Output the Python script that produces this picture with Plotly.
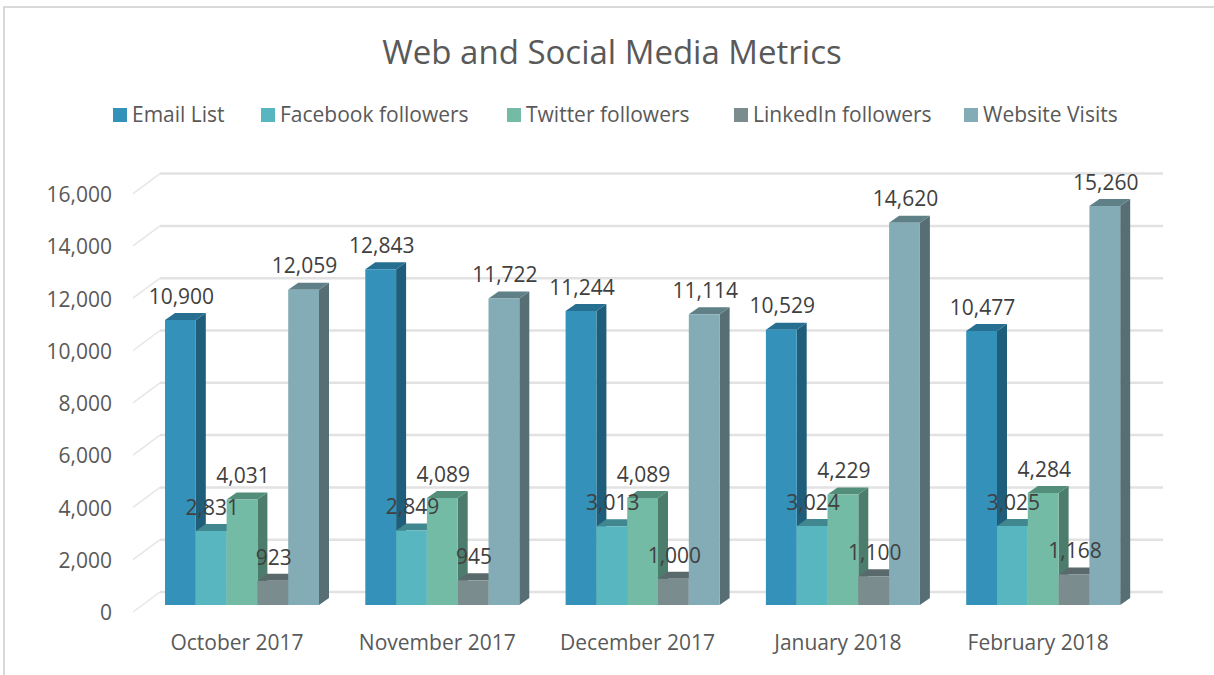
import plotly.graph_objects as go

# ---- chart data ----
months = ["October 2017", "November 2017", "December 2017", "January 2018", "February 2018"]
series_names = ["Email List", "Facebook followers", "Twitter followers", "LinkedIn followers", "Website Visits"]
email_list = [10900, 12843, 11244, 10529, 10477]
facebook = [2831, 2849, 3013, 3024, 3025]
twitter = [4031, 4089, 4089, 4229, 4284]
linkedin = [923, 945, 1000, 1100, 1168]
website = [12059, 11722, 11114, 14620, 15260]
value_ticks = [0, 2000, 4000, 6000, 8000, 10000, 12000, 14000, 16000]

series_values = [email_list, facebook, twitter, linkedin, website]
front_colors = ["#3391BA", "#58B6C0", "#74BBA6", "#7B8C8E", "#84ACB6"]
side_colors = ["#1F5E7A", "#3B7C84", "#4C7D6C", "#505E60", "#576E74"]
top_colors = ["#266F90", "#41878F", "#538E7B", "#5A6A6C", "#5F8087"]

# ---- page geometry, in pixels ----
W, H = 1214, 675
PLOT_L, PLOT_R, PLOT_T, PLOT_B = 120, 1170, 150, 630
GROUP0_PX, GROUP_STEP_PX = 242.0, 200.3
BASE_PX, PX_PER_UNIT = 605.0, 0.02615
BAR_PX = 30.8
DEPTH_X_PX, DEPTH_Y_PX = 10.0, 7.0
FONT = "Open Sans"


def x_span(px):
    return px / GROUP_STEP_PX


def y_span(px):
    return px / PX_PER_UNIT


def x_at(px):
    return (px - GROUP0_PX) / GROUP_STEP_PX


def paper_x(px):
    return (px - PLOT_L) / (PLOT_R - PLOT_L)


def paper_y(px):
    return (PLOT_B - px) / (PLOT_B - PLOT_T)


bar_w = x_span(BAR_PX)
group_w = bar_w * len(series_names)
dx, dy = x_span(DEPTH_X_PX), y_span(DEPTH_Y_PX)

fig = go.Figure()
shapes = []


def poly(points, color):
    path = "M " + " L ".join(f"{x:.5f},{y:.2f}" for x, y in points) + " Z"
    return dict(type="path", path=path, xref="x", yref="y", layer="below",
                fillcolor=color, line=dict(width=0))


# back wall grid lines, with the short diagonal running out to the axis plane
for t in value_ticks:
    back = t + y_span(13)
    front = t - y_span(7)
    shapes.append(dict(type="line", xref="x", yref="y", layer="below",
                       x0=x_at(160), x1=x_at(1163), y0=back, y1=back,
                       line=dict(color="#E2E2E2", width=2.5)))
    shapes.append(dict(type="line", xref="x", yref="y", layer="below",
                       x0=x_at(133), x1=x_at(160), y0=front, y1=back,
                       line=dict(color="#E6E6E6", width=1.5)))

# depth faces: every side first, then every top, so tops cover the neighbour's side
sides, tops = [], []
for k, values in enumerate(series_values):
    for i, v in enumerate(values):
        left = i - group_w / 2 + k * bar_w
        right = left + bar_w
        sides.append(poly([(right, 0), (right + dx, dy), (right + dx, v + dy), (right, v)], side_colors[k]))
        tops.append(poly([(left, v), (right, v), (right + dx, v + dy), (left + dx, v + dy)], top_colors[k]))
shapes += sides + tops

# front faces
for k, values in enumerate(series_values):
    fig.add_trace(go.Bar(x=list(range(len(months))), y=values, name=series_names[k],
                         marker=dict(color=front_colors[k], line=dict(width=0)),
                         showlegend=False))

# value labels above each column
label_lift = y_span(21.5)
for k, values in enumerate(series_values):
    fig.add_trace(go.Scatter(
        x=[i - group_w / 2 + (k + 0.5) * bar_w + x_span(1) for i in range(len(months))],
        y=[v + label_lift for v in values],
        mode="text", text=[f"{v:,}" for v in values], textposition="middle center",
        textfont=dict(family=FONT, size=21, color="#404040"),
        showlegend=False, hoverinfo="skip", cliponaxis=False))

# chart frame
shapes.append(dict(type="path", xref="paper", yref="paper", layer="above",
                   path=f"M {paper_x(4)},{paper_y(H + 5)} L {paper_x(4)},{paper_y(7)} L {paper_x(W + 5)},{paper_y(7)}",
                   line=dict(color="#D9D9D9", width=2)))

# legend row
legend_swatch_px = [113, 261, 507, 734, 964]
annotations = []
for k, name in enumerate(series_names):
    s = legend_swatch_px[k]
    shapes.append(dict(type="rect", xref="paper", yref="paper", layer="above",
                       x0=paper_x(s), x1=paper_x(s + 14), y0=paper_y(108), y1=paper_y(122),
                       fillcolor=front_colors[k], line=dict(width=0)))
    annotations.append(dict(xref="paper", yref="paper", x=paper_x(s + 17), y=paper_y(113.5),
                            xanchor="left", yanchor="middle", showarrow=False, text=name,
                            font=dict(family=FONT, size=21, color="#595959")))

fig.update_layout(
    width=W, height=H, autosize=False,
    margin=dict(l=PLOT_L, r=W - PLOT_R, t=PLOT_T, b=H - PLOT_B, pad=0),
    paper_bgcolor="white", plot_bgcolor="white",
    barmode="group", bargap=1 - group_w, bargroupgap=0,
    title=dict(text="Web and Social Media Metrics", x=612 / W, y=1 - 52 / H,
               xanchor="center", yanchor="middle",
               font=dict(family=FONT, size=33, color="#595959")),
    xaxis=dict(range=[x_at(PLOT_L), x_at(PLOT_R)], tickmode="array",
               tickvals=list(range(len(months))), ticktext=months,
               showgrid=False, zeroline=False, showline=False, ticks="",
               ticklabelshift=-5, ticklabelstandoff=-2,
               tickfont=dict(family=FONT, size=21, color="#595959")),
    yaxis=dict(range=[(BASE_PX - PLOT_B) / PX_PER_UNIT, (BASE_PX - PLOT_T) / PX_PER_UNIT],
               tickmode="array", tickvals=value_ticks,
               ticktext=[f"{t:,}" for t in value_ticks],
               showgrid=False, zeroline=False, showline=False, ticks="",
               ticklabelshift=8, ticklabelstandoff=7,
               tickfont=dict(family=FONT, size=21, color="#595959")),
    shapes=shapes, annotations=annotations,
)

fig.write_html("out.html")
